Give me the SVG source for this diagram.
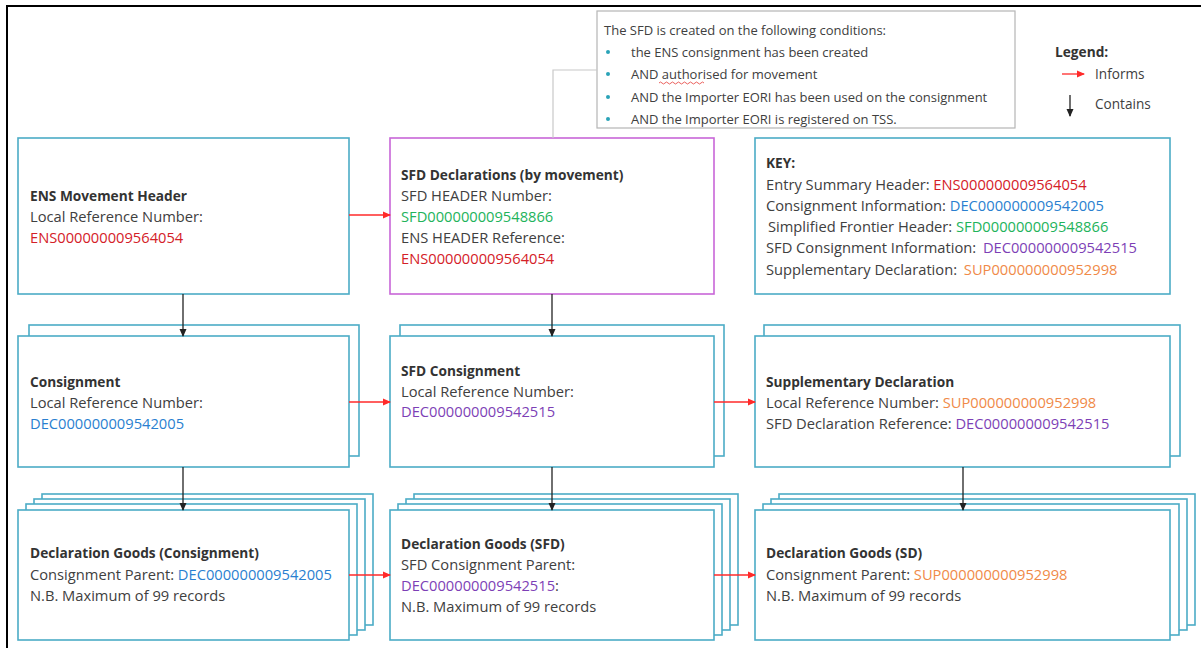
<svg xmlns="http://www.w3.org/2000/svg" width="1201" height="648" viewBox="0 0 1201 648">
<style>
text{font-family:"Open Sans","Noto Sans",sans-serif;font-size:14.7px;fill:#404040}
.b{font-weight:bold;fill:#333;font-size:13.7px}
.c{font-size:13px}
.l{font-size:13.6px}
.box{fill:#fff;stroke:#4bacc6;stroke-width:1.6}
.pbox{fill:#fff;stroke:#c866d8;stroke-width:1.6}
.red{fill:#d42027}.blue{fill:#2a7fd0}.green{fill:#22b35b}.purple{fill:#7d3fb6}.orange{fill:#f08a48}
.inf{stroke:#ff2a2a;stroke-width:1.3;fill:none}
.con{stroke:#222;stroke-width:1.3;fill:none}
</style>
<defs>
<marker id="ar" markerWidth="8" markerHeight="8" refX="7" refY="4" orient="auto" markerUnits="userSpaceOnUse"><path d="M0,0.5 L8,4 L0,7.5 Z" fill="#ff2a2a"/></marker>
<marker id="ab" markerWidth="8" markerHeight="8" refX="7" refY="4" orient="auto" markerUnits="userSpaceOnUse"><path d="M0,0.5 L8,4 L0,7.5 Z" fill="#222"/></marker>
</defs>
<rect width="1201" height="648" fill="#fff"/>
<rect x="7" y="6" width="1220" height="670" fill="none" stroke="#000" stroke-width="2"/>

<g id="callout">
<rect x="597" y="11" width="418" height="117" fill="#fff" stroke="#b5b5b5" stroke-width="1.2"/>
<text x="604" y="35" class="c">The SFD is created on the following conditions:</text>
<g fill="#2aa3b8"><circle cx="608" cy="52" r="2"/><circle cx="608" cy="74" r="2"/><circle cx="608" cy="97" r="2"/><circle cx="608" cy="119" r="2"/></g>
<text x="631" y="57" class="c">the ENS consignment has been created</text>
<text x="631" y="79" class="c">AND authorised for movement</text>
<path d="M659,83 q1.5,-2 3,0 t3,0 t3,0 t3,0 t3,0 t3,0 t3,0 t3,0 t3,0 t3,0 t3,0 t3,0 t3,0 t3,0 t3,0" fill="none" stroke="#e53935" stroke-width="0.8"/>
<text x="631" y="102" class="c">AND the Importer EORI has been used on the consignment</text>
<text x="631" y="124" class="c">AND the Importer EORI is registered on TSS.</text>
</g>

<g id="legend">
<text x="1055" y="57" class="b">Legend:</text>
<path d="M1062,74 L1084,74" class="inf" marker-end="url(#ar)"/>
<text x="1095" y="79" class="l">Informs</text>
<path d="M1070,95 L1070,116" class="con" marker-end="url(#ab)"/>
<text x="1095" y="109" class="l">Contains</text>
</g>

<g id="ens-header">
<rect x="18" y="138" width="331" height="156" class="box"/>
<text x="30" y="201" class="b">ENS Movement Header</text>
<text x="30" y="222">Local Reference Number:</text>
<text x="30" y="243" class="red">ENS000000009564054</text>
</g>

<g id="sfd-declarations">
<rect x="390" y="138" width="324" height="156" class="pbox"/>
<text x="401" y="180" class="b">SFD Declarations (by movement)</text>
<text x="401" y="201">SFD HEADER Number:</text>
<text x="401" y="222" class="green">SFD000000009548866</text>
<text x="401" y="243">ENS HEADER Reference:</text>
<text x="401" y="264" class="red">ENS000000009564054</text>
</g>

<g id="key">
<rect x="755" y="138" width="415" height="156" class="box"/>
<text x="766" y="168" class="b">KEY:</text>
<text x="766" y="190">Entry Summary Header: <tspan class="red">ENS000000009564054</tspan></text>
<text x="766" y="211">Consignment Information: <tspan class="blue">DEC000000009542005</tspan></text>
<text x="768" y="232">Simplified Frontier Header: <tspan class="green">SFD000000009548866</tspan></text>
<text x="766" y="253">SFD Consignment Information: <tspan class="purple" dx="3">DEC000000009542515</tspan></text>
<text x="766" y="275">Supplementary Declaration: <tspan class="orange" dx="3">SUP000000000952998</tspan></text>
</g>

<g id="consignment">
<rect x="29" y="325" width="330" height="131" class="box"/>
<rect x="18" y="336" width="331" height="131" class="box"/>
<text x="30" y="387" class="b">Consignment</text>
<text x="30" y="408">Local Reference Number:</text>
<text x="30" y="429" class="blue">DEC000000009542005</text>
</g>

<g id="sfd-consignment">
<rect x="400" y="325" width="324" height="131" class="box"/>
<rect x="390" y="336" width="324" height="131" class="box"/>
<text x="401" y="376" class="b">SFD Consignment</text>
<text x="401" y="397">Local Reference Number:</text>
<text x="401" y="417" class="purple">DEC000000009542515</text>
</g>

<g id="supplementary-declaration">
<rect x="764" y="325" width="416" height="131" class="box"/>
<rect x="755" y="336" width="415" height="131" class="box"/>
<text x="766" y="387" class="b">Supplementary Declaration</text>
<text x="766" y="408">Local Reference Number: <tspan class="orange">SUP000000000952998</tspan></text>
<text x="766" y="429">SFD Declaration Reference: <tspan class="purple">DEC000000009542515</tspan></text>
</g>

<g id="goods-consignment">
<rect x="42" y="494" width="331" height="131" class="box"/>
<rect x="34" y="499" width="331" height="131" class="box"/>
<rect x="26" y="504" width="331" height="131" class="box"/>
<rect x="18" y="510" width="331" height="130" class="box"/>
<text x="30" y="558" class="b">Declaration Goods (Consignment)</text>
<text x="30" y="580">Consignment Parent: <tspan class="blue">DEC000000009542005</tspan></text>
<text x="30" y="601">N.B. Maximum of 99 records</text>
</g>

<g id="goods-sfd">
<rect x="414" y="494" width="324" height="131" class="box"/>
<rect x="406" y="499" width="324" height="131" class="box"/>
<rect x="398" y="504" width="324" height="131" class="box"/>
<rect x="390" y="510" width="324" height="130" class="box"/>
<text x="401" y="549" class="b">Declaration Goods (SFD)</text>
<text x="401" y="570">SFD Consignment Parent:</text>
<text x="401" y="591"><tspan class="purple">DEC000000009542515</tspan>:</text>
<text x="401" y="612">N.B. Maximum of 99 records</text>
</g>

<g id="goods-sd">
<rect x="779" y="494" width="416" height="131" class="box"/>
<rect x="771" y="499" width="416" height="131" class="box"/>
<rect x="763" y="504" width="416" height="131" class="box"/>
<rect x="755" y="510" width="415" height="130" class="box"/>
<text x="766" y="558" class="b">Declaration Goods (SD)</text>
<text x="766" y="580">Consignment Parent: <tspan class="orange">SUP000000000952998</tspan></text>
<text x="766" y="601">N.B. Maximum of 99 records</text>
</g>

<g id="connectors">
<path d="M597,70 L553,70 L553,138" fill="none" stroke="#c8c8c8" stroke-width="1.2"/>
<path d="M349,215 L390,215" class="inf" marker-end="url(#ar)"/>
<path d="M349,402 L390,402" class="inf" marker-end="url(#ar)"/>
<path d="M714,402 L755,402" class="inf" marker-end="url(#ar)"/>
<path d="M349,575 L390,575" class="inf" marker-end="url(#ar)"/>
<path d="M714,575 L755,575" class="inf" marker-end="url(#ar)"/>
<path d="M183,294 L183,336" class="con" marker-end="url(#ab)"/>
<path d="M552,294 L552,336" class="con" marker-end="url(#ab)"/>
<path d="M183,467 L183,510" class="con" marker-end="url(#ab)"/>
<path d="M552,467 L552,510" class="con" marker-end="url(#ab)"/>
<path d="M963,467 L963,510" class="con" marker-end="url(#ab)"/>
</g>
</svg>
